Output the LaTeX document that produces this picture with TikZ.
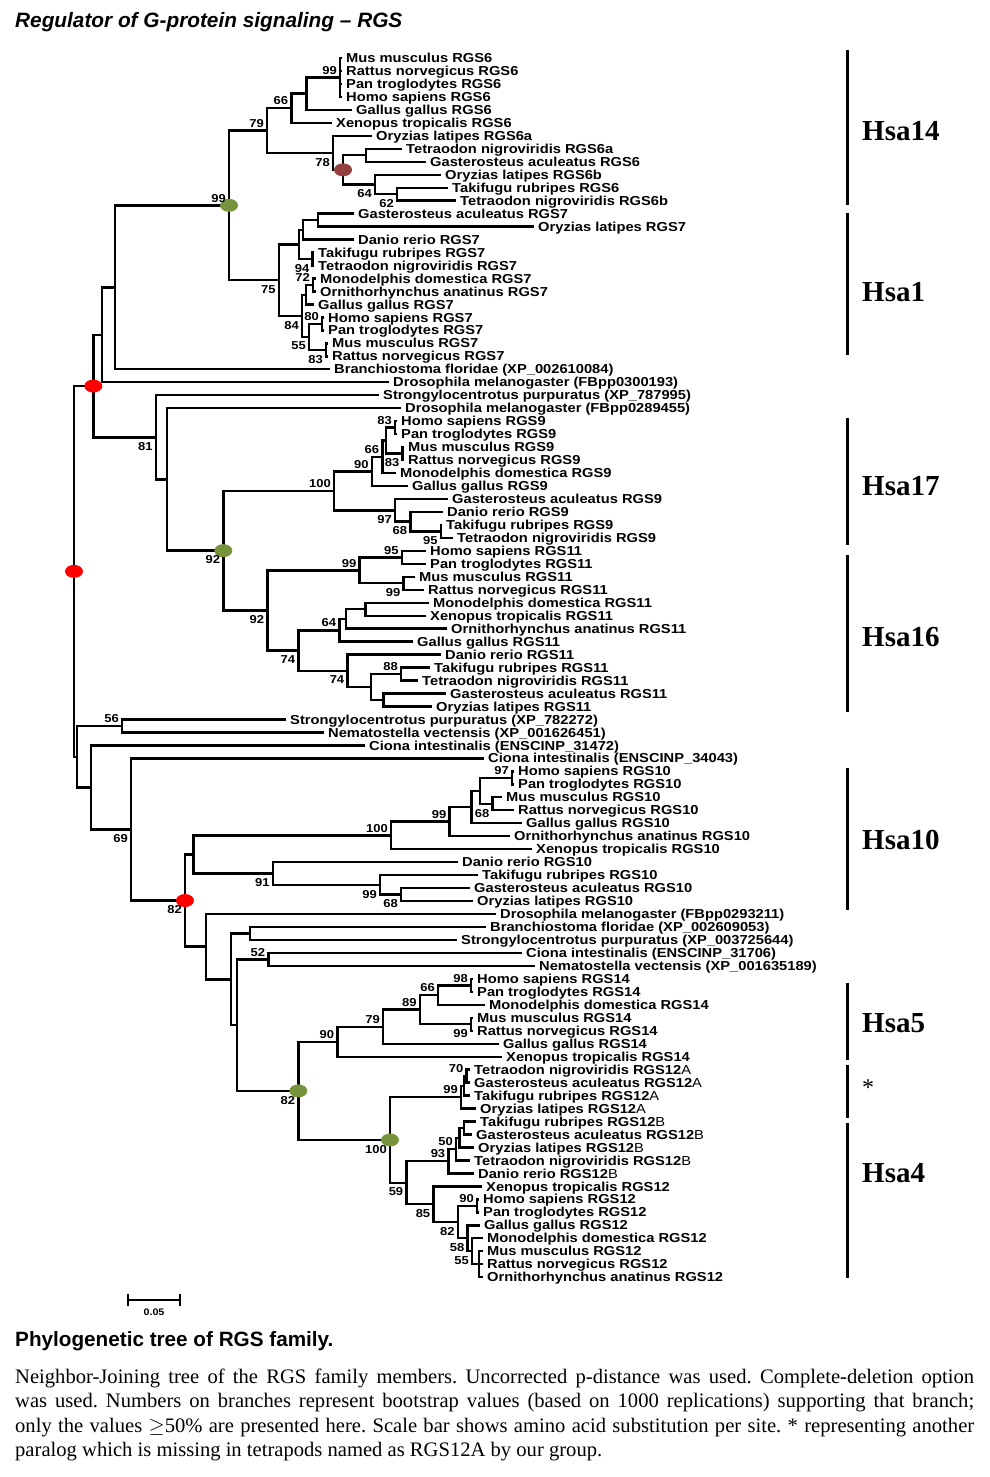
\documentclass[tikz,border=0pt]{standalone}
\usepackage{fontspec}
\setmainfont{Liberation Serif}
\newfontfamily\treefont{Liberation Sans}[FakeStretch=1.13]
\newfontfamily\headfont{Liberation Sans}
\usetikzlibrary{calc}
\definecolor{dotred}{RGB}{255,0,0}
\definecolor{dotgreen}{RGB}{119,147,60}
\definecolor{dotbrown}{RGB}{149,64,64}
\frenchspacing

% join two children (#3,#4) in a node #1 at x=#2
\newcommand{\jn}[4]{%
  \path let \p1=(#3), \p2=(#4) in (#2pt,{0.5*(\y1+\y2)}) coordinate (#1);
  \draw[branch] (#3) -| (#1) |- (#4);}

\begin{document}
\begin{tikzpicture}[x=1pt,y=-1pt,
  branch/.style={line width=2.4pt},
  leaflbl/.style={anchor=base west,inner sep=0pt,xshift=4pt,yshift=-4.6pt,
    font=\treefont\bfseries\fontsize{13}{13}\selectfont},
  bslbl/.style={inner sep=0pt,font=\treefont\bfseries\fontsize{11.5}{11.5}\selectfont},
  bsup/.style={bslbl,anchor=south east,xshift=-3pt,yshift=3pt},
  bsdn/.style={bslbl,anchor=north east,xshift=-3pt,yshift=-5pt},
  hsa/.style={anchor=west,inner sep=0pt,font=\bfseries\fontsize{29}{29}\selectfont},
  bar/.style={line width=3pt}]

\useasboundingbox (0,0) rectangle (989,1477);

%title
\node[anchor=base west,inner sep=0pt,font=\headfont\bfseries\itshape\fontsize{20.8}{24}\selectfont]
  (title) at (15,28) {Regulator of G-protein signaling – RGS};

%leaves: row/tip x/name
\foreach \row/\tip/\txt in {
  1/342/Mus musculus RGS6, 2/342/Rattus norvegicus RGS6, 3/342/Pan troglodytes RGS6,
  4/342/Homo sapiens RGS6, 5/352/Gallus gallus RGS6, 6/332/Xenopus tropicalis RGS6,
  7/372/Oryzias latipes RGS6a, 8/402/Tetraodon nigroviridis RGS6a,
  9/426/Gasterosteus aculeatus RGS6, 10/441/Oryzias latipes RGS6b,
  11/448/Takifugu rubripes RGS6, 12/456/Tetraodon nigroviridis RGS6b,
  13/354/Gasterosteus aculeatus RGS7, 14/534/Oryzias latipes RGS7, 15/354/Danio rerio RGS7,
  16/314/Takifugu rubripes RGS7, 17/314/Tetraodon nigroviridis RGS7,
  18/316/Monodelphis domestica RGS7, 19/316/Ornithorhynchus anatinus RGS7,
  20/314/Gallus gallus RGS7, 21/324/Homo sapiens RGS7, 22/324/Pan troglodytes RGS7,
  23/328/Mus musculus RGS7, 24/328/Rattus norvegicus RGS7,
  25/330/Branchiostoma floridae (XP\_002610084), 26/389/Drosophila melanogaster (FBpp0300193),
  27/379/Strongylocentrotus purpuratus (XP\_787995), 28/401/Drosophila melanogaster (FBpp0289455),
  29/397/Homo sapiens RGS9, 30/397/Pan troglodytes RGS9, 31/404/Mus musculus RGS9,
  32/404/Rattus norvegicus RGS9, 33/396/Monodelphis domestica RGS9, 34/408/Gallus gallus RGS9,
  35/448/Gasterosteus aculeatus RGS9, 36/443/Danio rerio RGS9, 37/442/Takifugu rubripes RGS9,
  38/453/Tetraodon nigroviridis RGS9, 39/426/Homo sapiens RGS11, 40/426/Pan troglodytes RGS11,
  41/415/Mus musculus RGS11, 42/424/Rattus norvegicus RGS11, 43/429/Monodelphis domestica RGS11,
  44/426/Xenopus tropicalis RGS11, 45/447/Ornithorhynchus anatinus RGS11,
  46/413/Gallus gallus RGS11, 47/441/Danio rerio RGS11, 48/430/Takifugu rubripes RGS11,
  49/418/Tetraodon nigroviridis RGS11, 50/446/Gasterosteus aculeatus RGS11,
  51/432/Oryzias latipes RGS11, 52/286/Strongylocentrotus purpuratus (XP\_782272),
  53/324/Nematostella vectensis (XP\_001626451), 54/365/Ciona intestinalis (ENSCINP\_31472),
  55/484/Ciona intestinalis (ENSCINP\_34043), 56/514/Homo sapiens RGS10,
  57/514/Pan troglodytes RGS10, 58/502/Mus musculus RGS10, 59/514/Rattus norvegicus RGS10,
  60/522/Gallus gallus RGS10, 61/510/Ornithorhynchus anatinus RGS10,
  62/532/Xenopus tropicalis RGS10, 63/458/Danio rerio RGS10, 64/478/Takifugu rubripes RGS10,
  65/470/Gasterosteus aculeatus RGS10, 66/473/Oryzias latipes RGS10,
  67/496/Drosophila melanogaster (FBpp0293211), 68/486/Branchiostoma floridae (XP\_002609053),
  69/457/Strongylocentrotus purpuratus (XP\_003725644), 70/522/Ciona intestinalis (ENSCINP\_31706),
  71/535/Nematostella vectensis (XP\_001635189), 72/473/Homo sapiens RGS14,
  73/473/Pan troglodytes RGS14, 74/485/Monodelphis domestica RGS14, 75/473/Mus musculus RGS14,
  76/473/Rattus norvegicus RGS14, 77/499/Gallus gallus RGS14, 78/502/Xenopus tropicalis RGS14,
  79/470/Tetraodon nigroviridis RGS12{\mdseries A}, 80/470/Gasterosteus aculeatus RGS12{\mdseries A},
  81/470/Takifugu rubripes RGS12{\mdseries A}, 82/476/Oryzias latipes RGS12{\mdseries A},
  83/476/Takifugu rubripes RGS12{\mdseries B}, 84/472/Gasterosteus aculeatus RGS12{\mdseries B},
  85/474/Oryzias latipes RGS12{\mdseries B}, 86/470/Tetraodon nigroviridis RGS12{\mdseries B},
  87/474/Danio rerio RGS12{\mdseries B}, 88/482/Xenopus tropicalis RGS12,
  89/479/Homo sapiens RGS12, 90/479/Pan troglodytes RGS12, 91/480/Gallus gallus RGS12,
  92/483/Monodelphis domestica RGS12, 93/483/Mus musculus RGS12,
  94/483/Rattus norvegicus RGS12, 95/483/Ornithorhynchus anatinus RGS12}{
  \coordinate (l\row) at (\tip,{58+12.97*(\row-1)});
  \node[leaflbl] (t\row) at (l\row) {\txt};
}

%inner nodes: name/x/upper child/lower child
\foreach \nm/\xx/\ca/\cb in {
  % RGS6
  n6c/340/l1/l4, n6b/306.6/n6c/l5, n6a/291.4/n6b/l6, n6f/366/l8/l9, n6h/397/l11/l12,
  n6g/375/l10/n6h, n6e/343/n6f/n6g, n6d/333/l7/n6e, n79/267/n6a/n6d,
  % RGS7
  n7a/318/l13/l14, n7b/303/n7a/l15, n7c/312.5/l16/l17, n7d/299/n7b/n7c,
  n7e/313/l18/l19, n7f/306/n7e/l20, n7g/322/l21/l22, n7h/326/l23/l24,
  n7i/309/n7g/n7h, n7j/302/n7f/n7i, n75/278.7/n7d/n7j,
  n99g/229/n79/n75, nb1/115/n99g/l25, nb2/102/nb1/l26,
  % RGS9 and RGS11
  n9hp/395/l29/l30, n9mr/402.5/l31/l32, n9m/385.7/n9hp/n9mr, n9a/382.3/n9m/l33,
  n9t/371.8/n9a/l34, n9tf/440.7/l37/l38, n9d/410.3/l36/n9tf, n9f/395/l35/n9d,
  n100a/334/n9t/n9f, n11hp/401.8/l39/l40, n11mr/403.5/l41/l42, n99c/359.5/n11hp/n11mr,
  n11mx/365.3/l43/l44, n11mxo/346/n11mx/l45, n64/339.3/n11mxo/l46, n88/401/l48/l49,
  n11go/383.3/l50/l51, n11f/371/n88/n11go, n74b/347.4/l47/n11f, n74/298.3/n64/n74b,
  n92b/267.3/n99c/n74, n92g/223.3/n100a/n92b, nq2/166.7/l28/n92g, n81/155.7/l27/nq2,
  nred1/93.3/nb2/n81,
  % RGS10
  n56/122/l52/l53, n10hp/512/l56/l57, n10mr/492.5/l58/l59, n10y/480/n10hp/n10mr,
  n10x/471.5/n10y/l60, n99t/449.6/n10x/l61, n100t/391/n99t/l62, n10z2/401/l65/l66,
  n10z/380/l64/n10z2, n91/272.7/l63/n10z, n10v/193.3/n100t/n91,
  nw3/250/l68/l69, n52/268.3/l70/l71,
  % RGS14 and RGS12
  n14hp/471/l72/l73, n14mr/471/l75/l76, n66t/438/n14hp/l74, n89/419.7/n66t/n14mr,
  n79t/383/n89/l77, n90t/337.3/n79t/l78,
  n70/466.5/l79/l80, n12ab/464/n70/l81, n99a/461/n12ab/l82,
  n12tg/464/l83/l84, n12b/459.5/n12tg/l85, n50/456/n12b/l86, n93/448.4/n50/l87,
  n90h/477/l89/l90, n55/479/l93/l95, n58/472/l92/n55, n12g/467.5/l91/n58,
  n82t/457.8/n90h/n12g, n85/433.4/l88/n82t, n59/406.4/n93/n85, n100g/390/n99a/n59,
  n82g/298.3/n90t/n100g, nw4/236.7/n52/n82g, nw2/231/nw3/nw4, nw/205.7/l67/nw2,
  % root
  n82r/185/n10v/nw, n69/131/l55/n82r, ns/90.7/l54/n69, nr2/76.7/n56/ns,
  nroot/74/nred1/nr2}{
  \jn{\nm}{\xx}{\ca}{\cb}
}
%multifurcations
\draw[branch] (n6c |- l2) -- (l2) (n6c |- l3) -- (l3) (n55 |- l94) -- (l94);

%marked nodes
\foreach \nm/\col in {nroot/dotred, nred1/dotred, n82r/dotred, n6e/dotbrown,
  n99g/dotgreen, n92g/dotgreen, n82g/dotgreen, n100g/dotgreen}
  \fill[\col] (\nm) ellipse [x radius=9pt, y radius=6.5pt];

%bootstrap values
\foreach \nm/\val in {n6c/99, n6a/66, n79/79, n99g/99, n7e/72, n7g/80, n9hp/83,
  n9a/66, n9t/90, n100a/100, n11hp/95, n99c/99, n64/64, n88/88, n56/56, n10hp/97,
  n99t/99, n100t/100, n52/52, n14hp/98, n66t/66, n89/89, n79t/79, n90t/90,
  n70/70, n99a/99, n50/50, n93/93, n90h/90}
  \node[bsup] (b\nm) at (\nm) {\val};
\foreach \nm/\val in {n6d/78, n6g/64, n6h/62, n7c/94, n7h/83, n7i/55, n7j/84, n75/75,
  n9mr/83, n9tf/95, n9d/68, n9f/97, n11mr/99, n74b/74, n74/74, n92b/92, n92g/92,
  n81/81, n10mr/68, n10z2/68, n10z/99, n91/91, n14mr/99, n12g/58, n58/55,
  n82t/82, n85/85, n59/59, n100g/100, n82g/82, n82r/82, n69/69}
  \node[bsdn] (b\nm) at (\nm) {\val};

%chromosome bars
\foreach \ya/\yb/\yl/\lab [count=\k] in {50/205/131/Hsa14, 213/355/292/Hsa1,
  418/545/486/Hsa17, 555/712/637/Hsa16, 768/910/840/Hsa10, 983/1060/1023/Hsa5,
  1065/1118/1088/{\fontsize{24}{24}\selectfont\mdseries *}, 1123/1278/1173/Hsa4}{
  \draw[bar] (847,\ya) -- (847,\yb);
  \node[hsa] (hsa\k) at (862,\yl) {\lab};
}

%scale bar
\coordinate (sbl) at (128,1300);
\coordinate (sbr) at (180,1300);
\draw[branch] (sbl) -- (sbr);
\draw[branch] ($(sbl)+(0,-6)$) -- ($(sbl)+(0,6)$) ($(sbr)+(0,-6)$) -- ($(sbr)+(0,6)$);
\node[inner sep=0pt,font=\treefont\bfseries\fontsize{9.5}{9.5}\selectfont] (sbt) at (154,1312) {0.05};

%caption
\node[anchor=base west,inner sep=0pt,font=\headfont\bfseries\fontsize{20.7}{24}\selectfont]
  (cap) at (15,1346) {Phylogenetic tree of RGS family.};
\node[anchor=base west,inner sep=0pt,text width=959pt,align=justify,
  font=\fontsize{20.6}{24.5}\selectfont] (legend) at (15,1383)
  {\hyphenpenalty=10000 Neighbor-Joining tree of the RGS family members. Uncorrected p-distance was used. Complete-deletion option\linebreak
  was used. Numbers on branches represent bootstrap values (based on 1000 replications) supporting that branch;\linebreak
  only the values $\geq$50\% are presented here. Scale bar shows amino acid substitution per site. * representing another\linebreak
  paralog which is missing in tetrapods named as RGS12A by our group.};

\end{tikzpicture}
\end{document}
